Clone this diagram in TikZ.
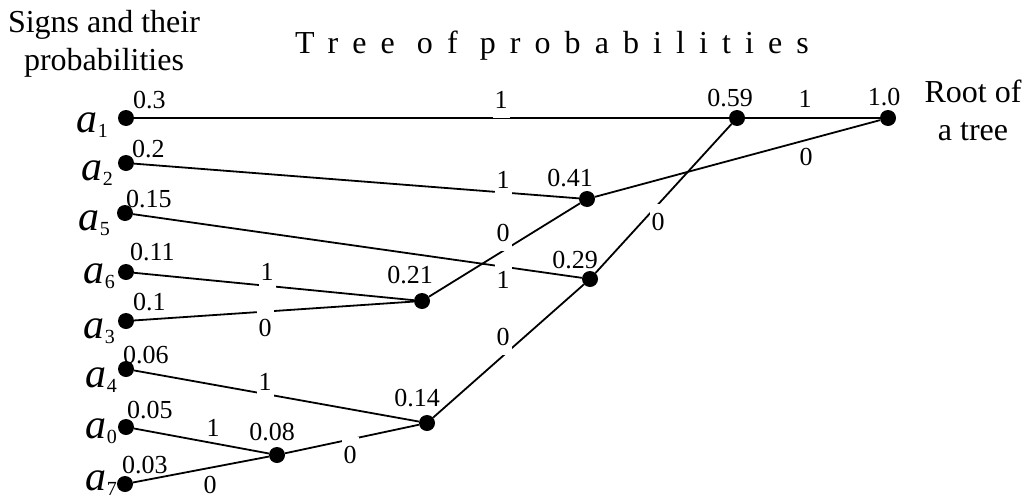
\documentclass[tikz,border=0pt]{standalone}
\usepackage{fontspec}
\setmainfont{Liberation Serif}
\newcommand\signsub[1]{\raisebox{-5pt}{\fontsize{20}{20}\selectfont\upshape #1}}
\begin{document}
\begin{tikzpicture}[x=1pt,y=-1pt,
dot/.style={circle,fill,inner sep=0pt,minimum size=16pt},
sym/.style={anchor=base east,inner sep=0pt,font=\fontsize{42}{42}\selectfont\itshape},
prob/.style={inner sep=0pt,font=\fontsize{26}{26}\selectfont},
bit/.style={inner xsep=2pt,inner ysep=1pt,font=\fontsize{26}{26}\selectfont},
cut/.style={bit,fill=white,inner ysep=9pt},
link/.style={line width=1.8pt},
side/.style={align=center,inner sep=0pt,anchor=north,font=\fontsize{32}{38}\selectfont}]
\useasboundingbox (0,0) rectangle (1028,498);
% headings
\node[side] (signs) at (104,10) {Signs and their\\probabilities};
\node[side] (root) at (973,80) {Root of\\a tree};
\node[anchor=base west,inner sep=0pt,font=\fontsize{32}{32}\selectfont\addfontfeature{LetterSpace=44}] (title) at (295,53) {Tree of probabilities};
% leaves
\node[dot] (a1) at (126,118) {};
\node[dot] (a2) at (126,163) {};
\node[dot] (a5) at (125,213) {};
\node[dot] (a6) at (126,272) {};
\node[dot] (a3) at (126,321) {};
\node[dot] (a4) at (126,369) {};
\node[dot] (a0) at (126,427) {};
\node[dot] (a7) at (125,484) {};
% inner nodes
\node[dot] (n08) at (277,455) {};
\node[dot] (n14) at (427,423) {};
\node[dot] (n21) at (422,301) {};
\node[dot] (n29) at (590,279) {};
\node[dot] (n41) at (587,199) {};
\node[dot] (n59) at (737,118) {};
\node[dot] (n10) at (888,118) {};
% signs
\node[sym] (s1) at (108,132) {a\signsub{1}};
\node[sym] (s2) at (113,180) {a\signsub{2}};
\node[sym] (s5) at (110,230) {a\signsub{5}};
\node[sym] (s6) at (115,283) {a\signsub{6}};
\node[sym] (s3) at (115,338) {a\signsub{3}};
\node[sym] (s4) at (117,387) {a\signsub{4}};
\node[sym] (s0) at (117,438) {a\signsub{0}};
\node[sym] (s7) at (117,490) {a\signsub{7}};
% probabilities
\node[prob,anchor=base west] (p1) at (133,108) {0.3};
\node[prob,anchor=base west] (p2) at (132,157) {0.2};
\node[prob,anchor=base west] (p5) at (126,207) {0.15};
\node[prob,anchor=base west] (p6) at (130,260) {0.11};
\node[prob,anchor=base west] (p3) at (133,310) {0.1};
\node[prob,anchor=base west] (p4) at (123,363) {0.06};
\node[prob,anchor=base west] (p0) at (127,418) {0.05};
\node[prob,anchor=base west] (p7) at (122,473) {0.03};
\node[prob,anchor=base] (q08) at (272,440) {0.08};
\node[prob,anchor=base] (q14) at (417,406) {0.14};
\node[prob,anchor=base] (q21) at (410,283) {0.21};
\node[prob,anchor=base] (q29) at (575,268) {0.29};
\node[prob,anchor=base] (q41) at (570,186) {0.41};
\node[prob,anchor=base] (q59) at (730,106) {0.59};
\node[prob,anchor=base] (q10) at (884,105) {1.0};
% branches
\draw[link] (a1) -- (n59);
\draw[link] (a2) -- (n41);
\draw[link] (a5) -- (n29);
\draw[link] (a6) -- (n21);
\draw[link] (a3) -- (n21);
\draw[link] (a4) -- (n14);
\draw[link] (a0) -- (n08);
\draw[link] (a7) -- (n08);
\draw[link] (n08) -- (n14);
\draw[link] (n21) -- (n41);
\draw[link] (n14) -- (n29);
\draw[link] (n41) -- (n10);
\draw[link] (n29) -- (n59);
\draw[link] (n59) -- (n10);
% branch bits
\node[cut] (b1) at (501,100) {1};
\node[cut] (b2) at (503,180) {1};
\node[cut] (b5) at (503,280) {1};
\node[cut] (b6) at (267,272) {1};
\node[cut] (b3) at (265,328) {0};
\node[cut] (b4) at (265,382) {1};
\node[bit] (b0) at (213,428) {1};
\node[bit] (b7) at (210,485) {0};
\node[cut] (c08) at (350,455) {0};
\node[cut] (c21) at (503,233) {0};
\node[cut] (c14) at (503,337) {0};
\node[cut] (c29) at (658,222) {0};
\node[bit] (c41) at (806,157) {0};
\node[bit] (c59) at (805,99) {1};
\end{tikzpicture}
\end{document}
